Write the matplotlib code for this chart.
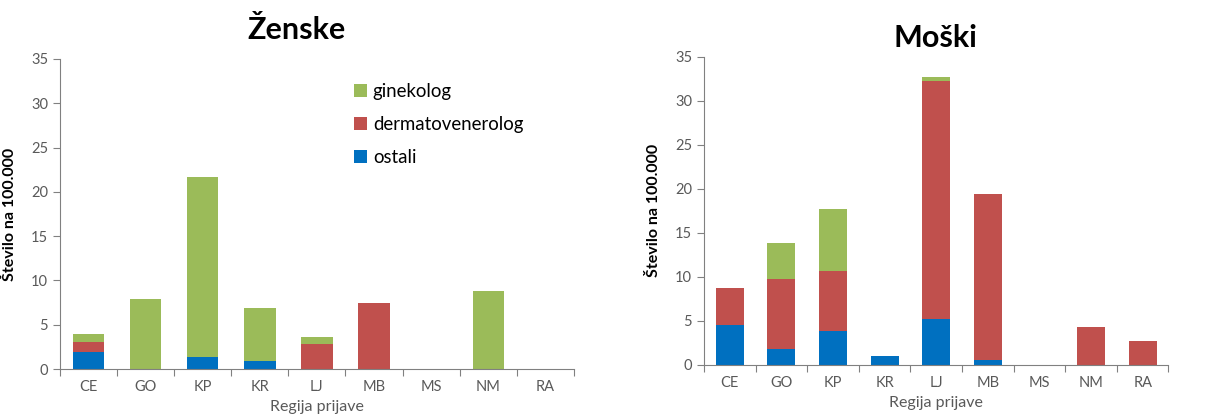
import matplotlib.pyplot as plt
import numpy as np

plt.rcParams['font.family'] = ['Lato', 'DejaVu Sans']

regije = ['CE', 'GO', 'KP', 'KR', 'LJ', 'MB', 'MS', 'NM', 'RA']

# Ženske
z_ostali = [1.9, 0, 1.3, 0.9, 0, 0, 0, 0, 0]
z_derm = [1.2, 0, 0, 0, 2.8, 7.4, 0, 0, 0]
z_gin = [0.85, 7.9, 20.4, 6.0, 0.85, 0, 0, 8.8, 0]

# Moški
m_ostali = [4.55, 1.8, 3.9, 1.05, 5.2, 0.55, 0, 0, 0]
m_derm = [4.15, 7.95, 6.8, 0, 27.0, 18.85, 0, 4.3, 2.7]
m_gin = [0, 4.05, 7.05, 0, 0.5, 0, 0, 0, 0]

c_gin = '#9BBB59'
c_derm = '#C0504D'
c_ost = '#0070C0'
txt_gray = '#595959'

fig = plt.figure(figsize=(12.11, 4.19), dpi=100)
ax1 = fig.add_axes([0.0495, 0.1193, 0.4244, 0.740])
ax2 = fig.add_axes([0.5813, 0.1289, 0.3836, 0.7358])


def risi(ax, ostali, derm, gin, sirina):
    x = np.arange(len(regije))
    ostali = np.array(ostali)
    derm = np.array(derm)
    gin = np.array(gin)
    b1 = ax.bar(x, ostali, sirina, color=c_ost, label='ostali')
    b2 = ax.bar(x, derm, sirina, bottom=ostali, color=c_derm, label='dermatovenerolog')
    b3 = ax.bar(x, gin, sirina, bottom=ostali + derm, color=c_gin, label='ginekolog')
    ax.set_xlim(-0.5, len(regije) - 0.5)
    ax.set_ylim(0, 35)
    ax.set_yticks(np.arange(0, 36, 5))
    ax.set_xticks(np.arange(-0.5, len(regije), 1))
    ax.set_xticklabels([])
    ax.set_xticks(x, minor=True)
    ax.set_xticklabels(regije, minor=True)
    ax.tick_params(axis='x', which='minor', length=0, pad=8, labelsize=10.5, labelcolor=txt_gray)
    ax.tick_params(axis='x', which='major', length=5, color='#808080', direction='out')
    ax.tick_params(axis='y', length=5, color='#808080', labelsize=10.5, labelcolor=txt_gray)
    for s in ['top', 'right']:
        ax.spines[s].set_visible(False)
    for s in ['left', 'bottom']:
        ax.spines[s].set_color('#808080')
    ax.set_xlabel('Regija prijave', fontsize=11.5, color=txt_gray, labelpad=4)
    ax.set_ylabel('Število na 100.000', fontsize=11.5, fontweight='bold', labelpad=10)
    return b1, b2, b3


b1, b2, b3 = risi(ax1, z_ostali, z_derm, z_gin, 0.55)
risi(ax2, m_ostali, m_derm, m_gin, 0.54)

ax1.legend([b3, b2, b1], ['ginekolog', 'dermatovenerolog', 'ostali'],
           loc='upper left', bbox_to_anchor=(0.54, 0.975), frameon=False,
           fontsize=13.4, handlelength=0.7, handleheight=0.7, handletextpad=0.3,
           labelspacing=0.85)

fig.text(297 / 1211, 1 - 30 / 419, 'Ženske', ha='center', va='center',
         fontsize=22, fontweight='bold')
fig.text(935 / 1211, 1 - 38 / 419, 'Moški', ha='center', va='center',
         fontsize=22, fontweight='bold')

fig.savefig('out.png', dpi=100)
